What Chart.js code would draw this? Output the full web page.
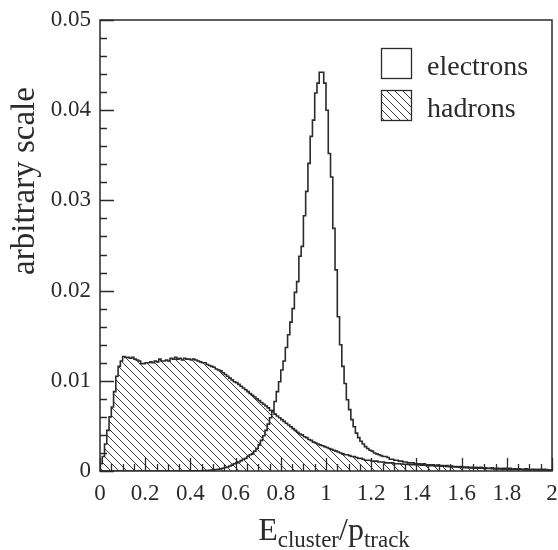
<!DOCTYPE html>
<html>
<head>
<meta charset="utf-8">
<script src="https://cdn.jsdelivr.net/npm/chart.js@4.4.1/dist/chart.umd.min.js"></script>
<style>
    body { margin: 0; background: #fff; }
    #wrap { width: 558px; height: 550px; }
</style>
</head>
<body>
<div id="wrap"><canvas id="histo"></canvas></div>
<script>
// histogram bins: 0 .. 2 in steps of 0.01
const binWidth = 0.01;
const xMin = 0, xMax = 2;

const electrons = [
    0, 0, 0, 0, 0, 0, 0, 0, 0, 0,
    0, 0, 0, 0, 0, 0, 0, 0, 0, 0,
    0, 0, 0, 0, 0, 0, 0, 0, 0, 0,
    0, 0, 0, 0, 0, 0, 0, 0, 0, 0,
    0.00001, 0.00001, 0.00002, 0.00002, 0.00003, 0.00003, 0.00004, 0.00005, 0.00006, 0.00008,
    0.0001, 0.00013, 0.00016, 0.0002, 0.00025, 0.0003, 0.00038, 0.00045, 0.00055, 0.00065,
    0.0008, 0.0009, 0.001, 0.00115, 0.0013, 0.0014, 0.0016, 0.0018, 0.0019, 0.0022,
    0.0025, 0.0029, 0.0034, 0.0039, 0.0045, 0.0052, 0.0059, 0.0067, 0.0077, 0.0088,
    0.0099, 0.0112, 0.0122, 0.0137, 0.0151, 0.0165, 0.018, 0.0198, 0.021, 0.0238,
    0.0249, 0.0283, 0.031, 0.0341, 0.0371, 0.0389, 0.0419, 0.043, 0.0442, 0.0442,
    0.043, 0.04, 0.0352, 0.0326, 0.0269, 0.0223, 0.0171, 0.014, 0.0116, 0.0097,
    0.0079, 0.0068, 0.0057, 0.0049, 0.0042, 0.0037, 0.0033, 0.003, 0.0027, 0.0025,
    0.0023, 0.0022, 0.002, 0.0019, 0.0018, 0.0017, 0.0016, 0.0016, 0.0015, 0.0013,
    0.0013, 0.0012, 0.0012, 0.0011, 0.0011, 0.001, 0.001, 0.0009, 0.0009, 0.0009,
    0.0008, 0.0008, 0.0008, 0.00075, 0.0008, 0.0007, 0.0007, 0.00065, 0.0007, 0.0006,
    0.00067, 0.0006, 0.0006, 0.00055, 0.0006, 0.0005, 0.00055, 0.0005, 0.0005, 0.00045,
    0.0005, 0.00045, 0.0004, 0.00045, 0.0004, 0.0004, 0.00035, 0.0004, 0.00035, 0.0004,
    0.0003, 0.00035, 0.0003, 0.0003, 0.00035, 0.0003, 0.00025, 0.0003, 0.00025, 0.0003,
    0.0003, 0.00025, 0.0003, 0.0002, 0.00025, 0.0002, 0.00025, 0.0002, 0.0002, 0.00025,
    0.0002, 0.00015, 0.0002, 0.0002, 0.00015, 0.0002, 0.00015, 0.0002, 0.00015, 0.0001
];

const hadrons = [
    0.0003, 0.0008, 0.0016, 0.003, 0.0045, 0.006, 0.0071, 0.0088, 0.0105, 0.0116,
    0.0122, 0.0127, 0.0126, 0.0126, 0.0125, 0.0126, 0.0124, 0.0123, 0.0122, 0.0119,
    0.0119, 0.012, 0.012, 0.0121, 0.012, 0.0122, 0.0121, 0.0124, 0.0122, 0.0122,
    0.0123, 0.0122, 0.0125, 0.0124, 0.0126, 0.0124, 0.0125, 0.0123, 0.0125, 0.0124,
    0.0124, 0.0123, 0.0124, 0.0123, 0.0122, 0.0121, 0.012, 0.012, 0.0118, 0.0117,
    0.0116, 0.0115, 0.0113, 0.0112, 0.0111, 0.0109, 0.0107, 0.0105, 0.0103, 0.0101,
    0.0099, 0.0098, 0.0096, 0.0094, 0.0092, 0.009, 0.0088, 0.0086, 0.0084, 0.0082,
    0.008, 0.0078, 0.0076, 0.0074, 0.0072, 0.007, 0.0067, 0.0066, 0.0063, 0.0061,
    0.0059, 0.0057, 0.0055, 0.0053, 0.0051, 0.0049, 0.0047, 0.0045, 0.0043, 0.0041,
    0.004, 0.0038, 0.0037, 0.0035, 0.0034, 0.0032, 0.0031, 0.003, 0.0029, 0.0028,
    0.0027, 0.0026, 0.0025, 0.0024, 0.0023, 0.0022, 0.0021, 0.002, 0.0019, 0.0018,
    0.0018, 0.0017, 0.0016, 0.0016, 0.0015, 0.0014, 0.0014, 0.0013, 0.0012, 0.0012,
    0.0012, 0.0011, 0.0011, 0.0011, 0.001, 0.001, 0.001, 0.0009, 0.0009, 0.0009,
    0.0009, 0.0008, 0.0008, 0.0008, 0.00078, 0.00075, 0.00075, 0.00072, 0.0007, 0.0007,
    0.0007, 0.00068, 0.00066, 0.00065, 0.00064, 0.00062, 0.0006, 0.0006, 0.00058, 0.00056,
    0.0006, 0.00055, 0.00054, 0.00052, 0.0005, 0.0005, 0.00048, 0.00046, 0.00045, 0.00044,
    0.0004, 0.0004, 0.00038, 0.00037, 0.00036, 0.00035, 0.00034, 0.00033, 0.00032, 0.0003,
    0.0003, 0.00029, 0.00028, 0.00027, 0.00026, 0.00025, 0.00024, 0.00023, 0.00022, 0.00021,
    0.0002, 0.0002, 0.00019, 0.00018, 0.00018, 0.00017, 0.00016, 0.00016, 0.00015, 0.00015,
    0.00015, 0.00014, 0.00014, 0.00013, 0.00013, 0.00012, 0.00012, 0.00011, 0.00011, 0.0001
];

const xTickLabels = ['0', '0.2', '0.4', '0.6', '0.8', '1', '1.2', '1.4', '1.6', '1.8', '2'];
const yTickLabels = ['0', '0.01', '0.02', '0.03', '0.04', '0.05'];
const seriesNames = ['electrons', 'hadrons'];
const yTitle = 'arbitrary scale';

const ink = '#2b2b2b';
const serif = "'Liberation Serif', 'DejaVu Serif', serif";

// turn bin contents into step points (left edges + closing edge)
function toSteps(vals) {
    const pts = [{x: xMin, y: 0}];
    for (let i = 0; i < vals.length; i++) {
        pts.push({x: xMin + i * binWidth, y: vals[i]});
    }
    pts.push({x: xMin + vals.length * binWidth, y: vals[vals.length - 1]});
    return pts;
}

// diagonal hatch for the hadron histogram
function makeHatch() {
    const s = 8;
    const c = document.createElement('canvas');
    c.width = s; c.height = s;
    const g = c.getContext('2d');
    g.strokeStyle = '#3a3a3a';
    g.lineWidth = 1;
    g.beginPath();
    g.moveTo(-1, -1); g.lineTo(s + 1, s + 1);
    g.moveTo(-1, s - 1); g.lineTo(1, s + 1);
    g.moveTo(s - 1, -1); g.lineTo(s + 1, 1);
    g.stroke();
    return document.getElementById('histo').getContext('2d').createPattern(c, 'repeat');
}
const hatch = makeHatch();

// frame, inward ticks, legend and axis titles
const decorations = {
    id: 'decorations',
    afterDraw(chart) {
        const ctx = chart.ctx;
        const a = chart.chartArea;
        const xs = chart.scales.x, ys = chart.scales.y;
        ctx.save();
        ctx.strokeStyle = ink;
        ctx.lineWidth = 1.3;

        // x ticks: major 0.2, minor 0.05
        ctx.beginPath();
        for (let k = 0; k <= 40; k++) {
            const v = k * 0.05;
            const px = Math.round(xs.getPixelForValue(v)) + 0.5;
            const len = (k % 4 === 0) ? 13 : 7;
            ctx.moveTo(px, a.bottom);
            ctx.lineTo(px, a.bottom - len);
        }
        // y ticks: major 0.01, minor 0.002
        for (let k = 0; k <= 25; k++) {
            const v = k * 0.002;
            const py = Math.round(ys.getPixelForValue(v)) + 0.5;
            const len = (k % 5 === 0) ? 14 : 7;
            ctx.moveTo(a.left, py);
            ctx.lineTo(a.left + len, py);
        }
        ctx.stroke();

        // frame
        ctx.lineWidth = 1.5;
        ctx.strokeRect(a.left, a.top, a.right - a.left, a.bottom - a.top);

        // legend
        const bx = a.right - 171, bw = 30;
        const rows = [a.top + 28, a.top + 70];
        ctx.font = '28px ' + serif;
        ctx.textBaseline = 'alphabetic';
        ctx.textAlign = 'left';
        rows.forEach((ty, i) => {
            ctx.fillStyle = i === 0 ? '#fff' : hatch;
            ctx.fillRect(bx, ty, bw, bw);
            ctx.lineWidth = 1.3;
            ctx.strokeRect(bx + 0.5, ty + 0.5, bw, bw);
            ctx.fillStyle = ink;
            ctx.fillText(seriesNames[i], bx + 46, ty + 27);
        });

        // y axis title, pushed toward the top like the original
        ctx.save();
        ctx.translate(34, 181);
        ctx.rotate(-Math.PI / 2);
        ctx.font = '33px ' + serif;
        ctx.textAlign = 'center';
        ctx.fillText(yTitle, 0, 0);
        ctx.restore();

        // x axis title with subscripts
        const parts = [
            {t: 'E', size: 32, dy: 0},
            {t: 'cluster', size: 23, dy: 7},
            {t: '/p', size: 32, dy: 0},
            {t: 'track', size: 23, dy: 7}
        ];
        let total = 0;
        parts.forEach(p => {
            ctx.font = p.size + 'px ' + serif;
            p.w = ctx.measureText(p.t).width;
            total += p.w;
        });
        let x = 334 - total / 2;
        const base = 540;
        parts.forEach(p => {
            ctx.font = p.size + 'px ' + serif;
            ctx.fillText(p.t, x, base + p.dy);
            x += p.w;
        });
        ctx.restore();
    }
};

new Chart(document.getElementById('histo'), {
    type: 'line',
    data: {
        datasets: [
            {
                label: seriesNames[1],
                data: toSteps(hadrons),
                stepped: 'after',
                borderColor: ink,
                borderWidth: 1.6,
                backgroundColor: hatch,
                fill: 'origin',
                pointRadius: 0,
                order: 2
            },
            {
                label: seriesNames[0],
                data: toSteps(electrons),
                stepped: 'after',
                borderColor: ink,
                borderWidth: 1.6,
                fill: false,
                pointRadius: 0,
                order: 1
            }
        ]
    },
    options: {
        responsive: true,
        maintainAspectRatio: false,
        animation: false,
        layout: { padding: { top: 20, right: 6, left: 0, bottom: 0 } },
        plugins: {
            legend: { display: false },
            tooltip: { enabled: false }
        },
        scales: {
            x: {
                type: 'linear',
                min: xMin,
                max: xMax,
                grid: { display: false, drawTicks: false },
                border: { display: false },
                afterFit: (s) => {
                    s.height = 79;
                    s.paddingLeft = 0;
                    s.paddingRight = 0;
                },
                afterBuildTicks: (s) => {
                    s.ticks = xTickLabels.map(l => ({value: parseFloat(l)}));
                },
                ticks: {
                    padding: 9,
                    maxRotation: 0,
                    autoSkip: false,
                    color: ink,
                    font: { family: serif, size: 23 },
                    callback: (v, i) => xTickLabels[i]
                }
            },
            y: {
                min: 0,
                max: 0.05,
                grid: { display: false, drawTicks: false },
                border: { display: false },
                afterFit: (s) => {
                    s.width = 100;
                    s.paddingTop = 0;
                    s.paddingBottom = 0;
                },
                afterBuildTicks: (s) => {
                    s.ticks = yTickLabels.map(l => ({value: parseFloat(l)}));
                },
                ticks: {
                    padding: 9,
                    color: ink,
                    font: { family: serif, size: 23 },
                    callback: (v, i) => yTickLabels[i]
                }
            }
        }
    },
    plugins: [decorations]
});
</script>
</body>
</html>
